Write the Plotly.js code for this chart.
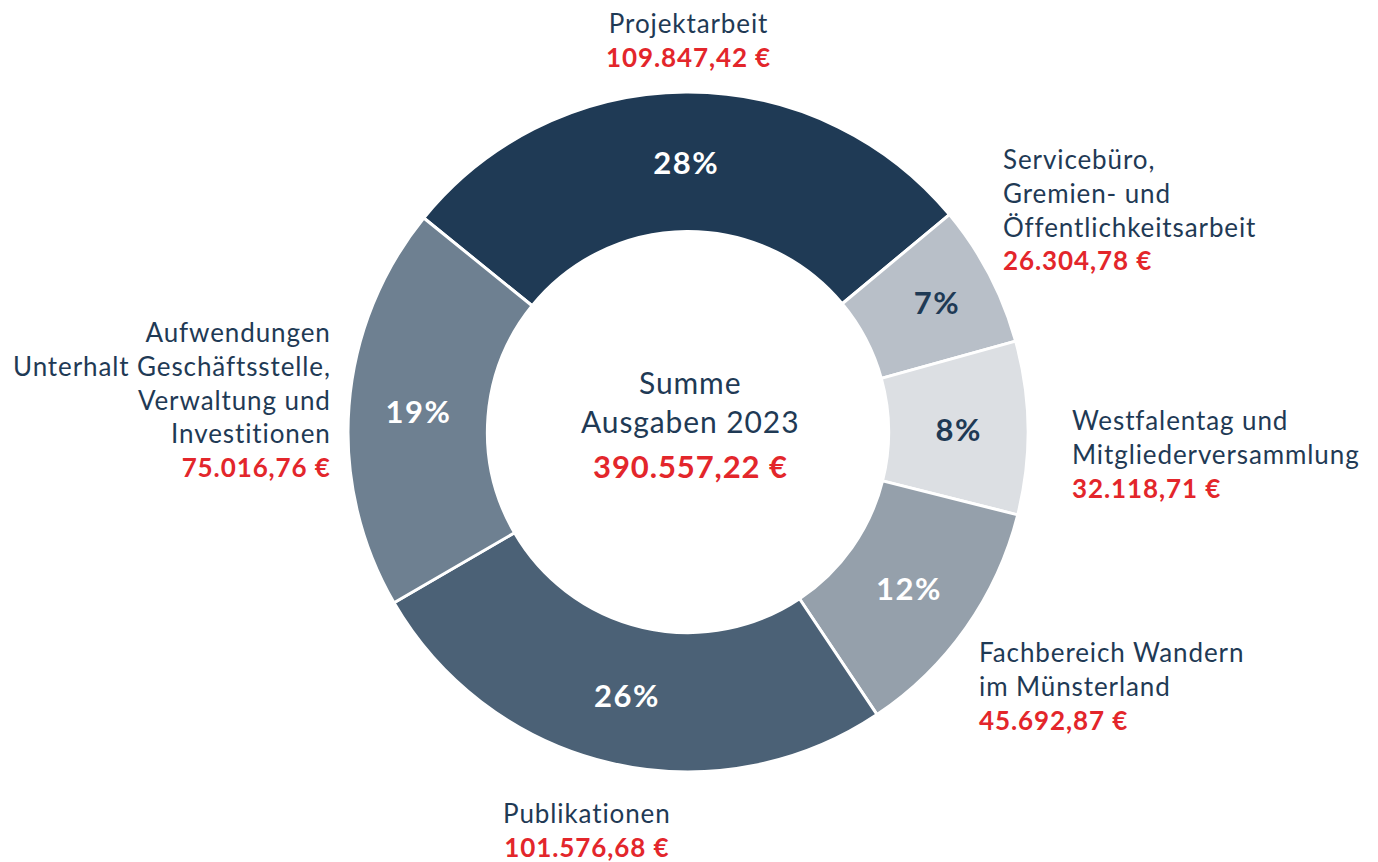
<!DOCTYPE html>
<html>
<head>
<meta charset="utf-8">
<script src="https://cdn.plot.ly/plotly-3.0.1.min.js"></script>
<style>
html,body{margin:0;padding:0;background:#fff;}
#chart{width:1378px;height:862px;}
text.annotation-text{letter-spacing:0.9px;}
text.slicetext{letter-spacing:1.5px;}
</style>
</head>
<body>
<div id="chart"></div>
<script>
// ---- data ----
const categories = [
  "Projektarbeit",
  "Servicebüro,<br>Gremien- und<br>Öffentlichkeitsarbeit",
  "Westfalentag und<br>Mitgliederversammlung",
  "Fachbereich Wandern<br>im Münsterland",
  "Publikationen",
  "Aufwendungen<br>Unterhalt Geschäftsstelle,<br>Verwaltung und<br>Investitionen"
];
const values = [109847.42, 26304.78, 32118.71, 45692.87, 101576.68, 75016.76];
const valueLabels = ["109.847,42 €", "26.304,78 €", "32.118,71 €", "45.692,87 €", "101.576,68 €", "75.016,76 €"];
const centerTitle = "Summe<br>Ausgaben 2023";
const totalLabel = "390.557,22 €";

// ---- styles ----
const sliceColors = ["#1f3a55", "#b8bfc8", "#dcdfe3", "#95a0ab", "#4b6176", "#6e8091"];
const textColors = ["#ffffff", "#1f3a55", "#1f3a55", "#ffffff", "#ffffff", "#ffffff"];
const NAVY = "#1f3a55", RED = "#e3262b";
const FONT = "Lato, 'Open Sans', sans-serif";

const total = values.reduce((a, b) => a + b, 0);
const pctText = values.map(v => Math.round(v / total * 100) + "%");

const W = 1378, H = 862;
const px = p => p / W, py = p => 1 - p / H;

// label placements (pixels): x, y of top, anchor
const labelPos = [
  {x: 688, y: 5, xa: "center"},
  {x: 1001, y: 141, xa: "left"},
  {x: 1070, y: 402, xa: "left"},
  {x: 977, y: 634, xa: "left"},
  {x: 587, y: 795, xa: "center"},
  {x: 333, y: 314, xa: "right"}
];

const annotations = categories.map((c, i) => ({
  xref: "paper", yref: "paper",
  x: px(labelPos[i].x), y: py(labelPos[i].y),
  xanchor: labelPos[i].xa, yanchor: "top",
  align: labelPos[i].xa,
  showarrow: false,
  text: c + "<br><span style='color:" + RED + "'><b>" + valueLabels[i] + "</b></span>",
  font: {family: FONT, size: 26, color: NAVY}
}));
annotations.push({
  xref: "paper", yref: "paper",
  x: px(690), y: py(362), xanchor: "center", yanchor: "top",
  showarrow: false, align: "center",
  text: centerTitle,
  font: {family: FONT, size: 30, color: NAVY}
});
annotations.push({
  xref: "paper", yref: "paper",
  x: px(690), y: py(445), xanchor: "center", yanchor: "top",
  showarrow: false, align: "center",
  text: "<b>" + totalLabel + "</b>",
  font: {family: FONT, size: 31, color: RED}
});

const cx = 688, cy = 432, R = 340;
const trace = {
  type: "pie",
  labels: categories,
  values: values,
  text: pctText,
  textinfo: "text",
  texttemplate: "<b>%{text}</b>",
  textposition: "inside",
  insidetextorientation: "horizontal",
  insidetextfont: {family: FONT, size: 31, color: textColors},
  hole: 0.59,
  sort: false,
  direction: "clockwise",
  rotation: -51,
  marker: {colors: sliceColors, line: {color: "#ffffff", width: 3}},
  domain: {x: [px(cx - R), px(cx + R)], y: [py(cy + R), py(cy - R)]},
  showlegend: false,
  hoverinfo: "none"
};

const layout = {
  width: W, height: H,
  margin: {l: 0, r: 0, t: 0, b: 0},
  paper_bgcolor: "#ffffff",
  showlegend: false,
  annotations: annotations
};

Plotly.newPlot("chart", [trace], layout, {displayModeBar: false, staticPlot: true});
</script>
</body>
</html>
